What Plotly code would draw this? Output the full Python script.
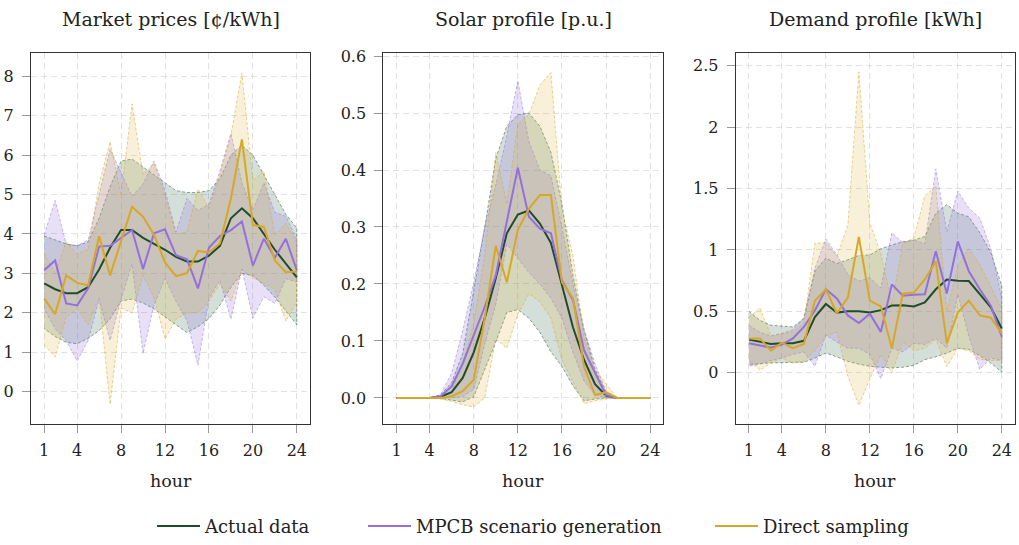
import plotly.graph_objects as go

hours = list(range(1, 25))

# ---------- Market prices [¢/kWh] ----------
price_actual = [2.75, 2.6, 2.5, 2.5, 2.65, 3.1, 3.65, 4.1, 4.1, 3.9, 3.75, 3.6, 3.42, 3.3, 3.3, 3.45, 3.7, 4.4, 4.65, 4.4, 4.0, 3.6, 3.25, 2.9]
price_actual_hi = [3.95, 3.85, 3.75, 3.7, 3.8, 4.4, 5.2, 5.85, 5.9, 5.7, 5.5, 5.3, 5.1, 5.05, 5.05, 5.1, 5.4, 6.0, 6.25, 6.0, 5.5, 5.0, 4.5, 4.15]
price_actual_lo = [1.6, 1.4, 1.25, 1.22, 1.35, 1.55, 1.85, 2.3, 2.35, 2.25, 2.1, 1.9, 1.7, 1.5, 1.65, 1.85, 2.2, 2.65, 3.0, 2.95, 2.7, 2.4, 2.05, 1.7]
price_mpcb = [3.08, 3.33, 2.24, 2.19, 2.62, 3.68, 3.7, 3.9, 4.1, 3.11, 4.02, 4.12, 3.46, 3.36, 2.62, 3.65, 3.95, 4.1, 4.32, 3.2, 3.88, 3.4, 3.88, 3.08]
price_mpcb_hi = [3.98, 4.85, 3.75, 3.7, 3.85, 5.0, 6.15, 5.55, 4.95, 5.27, 5.85, 5.1, 4.05, 4.9, 4.6, 4.75, 5.6, 6.55, 5.3, 4.6, 5.3, 4.55, 4.45, 3.85]
price_mpcb_lo = [2.1, 1.6, 1.3, 0.78, 1.3, 2.35, 1.3, 2.35, 3.24, 0.97, 2.2, 2.87, 2.3, 1.8, 0.67, 2.37, 2.83, 1.84, 3.11, 1.87, 2.41, 2.24, 2.87, 2.78]
price_ds = [2.36, 1.97, 2.95, 2.76, 2.7, 3.95, 2.95, 3.85, 4.69, 4.44, 3.98, 3.28, 2.93, 3.01, 3.57, 3.53, 3.76, 4.9, 6.4, 4.23, 4.18, 3.33, 3.03, 3.05]
price_ds_hi = [3.5, 3.0, 3.8, 3.5, 3.6, 5.27, 6.34, 4.98, 7.3, 5.5, 5.8, 4.95, 4.0, 4.05, 5.14, 4.65, 5.5, 6.5, 8.08, 5.35, 5.6, 3.95, 4.27, 3.78]
price_ds_lo = [1.19, 0.88, 1.9, 2.1, 1.7, 2.4, -0.32, 2.12, 2.0, 2.95, 2.4, 1.34, 1.84, 2.0, 2.0, 2.29, 2.74, 2.3, 3.1, 2.9, 2.75, 2.6, 1.79, 2.29]

# ---------- Solar profile [p.u.] ----------
solar_actual = [0, 0, 0, 0, 0.002, 0.01, 0.035, 0.08, 0.14, 0.21, 0.289, 0.322, 0.329, 0.306, 0.272, 0.198, 0.124, 0.067, 0.024, 0.004, 0, 0, 0, 0]
solar_actual_hi = [0, 0, 0, 0, 0.005, 0.027, 0.078, 0.19, 0.3, 0.42, 0.477, 0.497, 0.5, 0.477, 0.431, 0.34, 0.215, 0.12, 0.05, 0.01, 0, 0, 0, 0]
solar_actual_lo = [0, 0, 0, 0, -0.001, -0.004, -0.007, 0.002, 0.05, 0.098, 0.15, 0.155, 0.14, 0.115, 0.081, 0.055, 0.021, -0.005, -0.002, 0, 0, 0, 0, 0]
solar_mpcb = [0, 0, 0, 0, 0.003, 0.02, 0.06, 0.11, 0.16, 0.215, 0.31, 0.404, 0.318, 0.297, 0.289, 0.206, 0.172, 0.084, 0.044, 0.005, 0, 0, 0, 0]
solar_mpcb_hi = [0, 0, 0, 0, 0.006, 0.044, 0.118, 0.203, 0.3, 0.374, 0.46, 0.557, 0.45, 0.4, 0.39, 0.3, 0.2, 0.12, 0.06, 0.012, 0, 0, 0, 0]
solar_mpcb_lo = [0, 0, 0, 0, 0, 0, 0.002, 0.015, 0.095, 0.164, 0.27, 0.245, 0.22, 0.2, 0.175, 0.14, 0.08, 0.03, 0.005, 0, 0, 0, 0, 0]
solar_ds = [0, 0, 0, 0, 0, 0.003, 0.012, 0.032, 0.14, 0.267, 0.203, 0.295, 0.332, 0.356, 0.356, 0.203, 0.175, 0.055, 0.005, 0.01, 0, 0, 0, 0]
solar_ds_hi = [0, 0, 0, 0, 0.002, 0.012, 0.06, 0.13, 0.25, 0.431, 0.34, 0.48, 0.497, 0.549, 0.571, 0.33, 0.25, 0.106, 0.05, 0.024, 0, 0, 0, 0]
solar_ds_lo = [0, 0, 0, 0, -0.002, -0.006, -0.012, -0.016, 0.0, 0.104, 0.087, 0.147, 0.183, 0.169, 0.14, 0.067, 0.03, -0.01, -0.005, -0.002, 0, 0, 0, 0]

# ---------- Demand profile [kWh] ----------
dem_actual = [0.27, 0.25, 0.235, 0.24, 0.24, 0.26, 0.453, 0.56, 0.49, 0.5, 0.5, 0.49, 0.51, 0.547, 0.55, 0.54, 0.573, 0.68, 0.76, 0.75, 0.747, 0.64, 0.533, 0.36]
dem_actual_hi = [0.5, 0.427, 0.387, 0.38, 0.373, 0.44, 0.827, 0.933, 0.89, 0.92, 0.955, 0.96, 1.01, 1.04, 1.067, 1.08, 1.11, 1.3, 1.37, 1.3, 1.27, 1.14, 0.98, 0.707]
dem_actual_lo = [0.067, 0.075, 0.08, 0.085, 0.085, 0.085, 0.12, 0.16, 0.13, 0.093, 0.07, 0.053, 0.045, 0.04, 0.045, 0.06, 0.107, 0.13, 0.16, 0.2, 0.19, 0.14, 0.08, 0.005]
dem_mpcb = [0.24, 0.22, 0.205, 0.23, 0.28, 0.373, 0.507, 0.68, 0.605, 0.467, 0.405, 0.48, 0.333, 0.72, 0.627, 0.635, 0.64, 0.99, 0.645, 1.07, 0.827, 0.68, 0.547, 0.293]
dem_mpcb_hi = [0.387, 0.33, 0.3, 0.32, 0.35, 0.45, 0.85, 1.09, 0.96, 0.8, 0.747, 0.773, 0.69, 1.14, 1.06, 1.08, 1.05, 1.66, 1.15, 1.48, 1.34, 1.26, 1.01, 0.61]
dem_mpcb_lo = [0.053, 0.07, 0.1, 0.12, 0.15, 0.17, 0.053, 0.307, 0.25, 0.2, 0.2, 0.15, -0.048, 0.2, 0.17, 0.24, 0.23, 0.28, 0.2, 0.64, 0.3, 0.027, 0.12, 0.1]
dem_ds = [0.28, 0.28, 0.18, 0.245, 0.2, 0.235, 0.587, 0.68, 0.485, 0.613, 1.107, 0.587, 0.54, 0.2, 0.645, 0.653, 0.76, 0.907, 0.24, 0.493, 0.587, 0.467, 0.448, 0.32]
dem_ds_hi = [0.45, 0.528, 0.3, 0.32, 0.33, 0.4, 1.053, 1.06, 0.95, 1.2, 2.45, 1.22, 0.97, 0.56, 1.05, 1.1, 1.44, 1.52, 0.5, 0.87, 1.01, 0.88, 0.7, 0.52]
dem_ds_lo = [0.1, 0.02, 0.08, 0.12, 0.08, 0.09, 0.18, 0.3, 0.33, -0.027, -0.267, -0.05, 0.15, 0.0, 0.25, 0.18, 0.2, 0.27, 0.05, 0.2, 0.18, 0.11, 0.1, 0.1]

titles = ["Market prices [¢/kWh]", "Solar profile [p.u.]", "Demand profile [kWh]"]
series_names = ["Actual data", "MPCB scenario generation", "Direct sampling"]
x_ticks = [1, 4, 8, 12, 16, 20, 24]

# ---------- styling ----------
W, H = 1019, 545
FONT = "DejaVu Serif"
line_cols = ["rgb(31,77,43)", "rgb(147,112,219)", "rgb(214,168,40)"]
fill_cols = ["rgba(47,95,70,0.20)", "rgba(147,112,219,0.22)", "rgba(222,180,60,0.20)"]
edge_cols = ["rgba(31,77,43,0.7)", "rgba(147,112,219,0.7)", "rgba(214,168,40,0.75)"]

panels = [
    dict(mean=[price_actual, price_mpcb, price_ds],
         hi=[price_actual_hi, price_mpcb_hi, price_ds_hi],
         lo=[price_actual_lo, price_mpcb_lo, price_ds_lo],
         yr=[-0.82, 8.58], ytv=list(range(0, 9)), fmt="d"),
    dict(mean=[solar_actual, solar_mpcb, solar_ds],
         hi=[solar_actual_hi, solar_mpcb_hi, solar_ds_hi],
         lo=[solar_actual_lo, solar_mpcb_lo, solar_ds_lo],
         yr=[-0.046, 0.6048], ytv=[0, 0.1, 0.2, 0.3, 0.4, 0.5, 0.6], fmt=".1f"),
    dict(mean=[dem_actual, dem_mpcb, dem_ds],
         hi=[dem_actual_hi, dem_mpcb_hi, dem_ds_hi],
         lo=[dem_actual_lo, dem_mpcb_lo, dem_ds_lo],
         yr=[-0.418, 2.601], ytv=[0, 0.5, 1, 1.5, 2, 2.5], fmt=""),
]

# pixel boxes of the three plot areas
x_px = [(31, 310), (383.3, 663.4), (735.7, 1015)]
y_top, y_bot = 47.3, 425.7

fig = go.Figure()
legend_ids = ["legend", "legend2", "legend3"]

for p_i, p in enumerate(panels):
    xa = "x" if p_i == 0 else f"x{p_i + 1}"
    ya = "y" if p_i == 0 else f"y{p_i + 1}"
    # bands
    for s in range(3):
        fig.add_trace(go.Scatter(
            x=hours + hours[::-1],
            y=p["hi"][s] + p["lo"][s][::-1],
            fill="toself", fillcolor=fill_cols[s],
            line=dict(color=edge_cols[s], width=0.7, dash="3px,2px"),
            mode="lines", hoverinfo="skip", showlegend=False,
            xaxis=xa, yaxis=ya))
    # mean lines
    for s in range(3):
        fig.add_trace(go.Scatter(
            x=hours, y=p["mean"][s], mode="lines",
            line=dict(color=line_cols[s], width=2),
            name=series_names[s], showlegend=(p_i == 0),
            legend=legend_ids[s],
            xaxis=xa, yaxis=ya))

axis_common = dict(
    showline=True, linecolor="#333", linewidth=1, mirror=True,
    showgrid=True, gridcolor="rgba(205,205,205,0.6)", griddash="6px,4px", gridwidth=1,
    zeroline=False, ticks="outside", ticklen=8, tickcolor="#999", tickwidth=1,
    tickfont=dict(family=FONT, size=16, color="#222"),
)

layout = dict(
    width=W, height=H, margin=dict(l=0, r=0, t=0, b=0),
    paper_bgcolor="white", plot_bgcolor="white",
    font=dict(family=FONT, size=17, color="#222"),
    annotations=[],
)

yd = [(H - y_bot) / H, (H - y_top) / H]
for p_i, p in enumerate(panels):
    sx = "" if p_i == 0 else str(p_i + 1)
    x0, x1 = x_px[p_i]
    xdom = [x0 / W, x1 / W]
    layout["xaxis" + sx] = dict(axis_common, domain=xdom, range=[-0.2, 25.2],
                                tickvals=x_ticks, anchor="y" + sx,
                                ticklabelstandoff=4)
    yax = dict(axis_common, domain=yd, range=p["yr"], tickvals=p["ytv"],
               anchor="x" + sx, ticklabelstandoff=5)
    if p["fmt"]:
        yax["tickformat"] = p["fmt"]
    layout["yaxis" + sx] = yax
    cx = (x0 + x1) / 2 / W
    layout["annotations"].append(dict(
        text=titles[p_i], x=cx, y=(H - 12) / H, xref="paper", yref="paper",
        xanchor="center", yanchor="middle", showarrow=False,
        font=dict(family=FONT, size=19, color="#222")))
    layout["annotations"].append(dict(
        text="hour", x=cx, y=(H - 484) / H, xref="paper", yref="paper",
        xanchor="center", yanchor="middle", showarrow=False,
        font=dict(family=FONT, size=17.5, color="#222")))

leg_x = [152, 363, 710]
for i, lid in enumerate(legend_ids):
    layout[lid] = dict(
        x=leg_x[i] / W, y=(H - 530) / H, xanchor="left", yanchor="middle",
        orientation="h", bgcolor="rgba(0,0,0,0)", borderwidth=0,
        font=dict(family=FONT, size=18, color="#222"), itemwidth=43)

fig.update_layout(**layout)
fig.write_html("out.html")
